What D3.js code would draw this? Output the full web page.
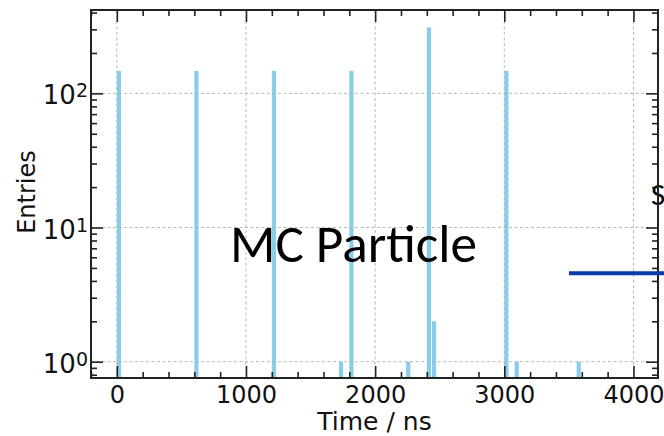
<!DOCTYPE html>
<html>
<head>
<meta charset="utf-8">
<script src="https://cdn.jsdelivr.net/npm/d3@7"></script>
<style>
  body { margin: 0; background: #fff; }
  svg { display: block; }
  .tick text { font-family: "DejaVu Sans", sans-serif; fill: #111; }
</style>
</head>
<body>
<div id="chart"></div>
<script>
// histogram bins: left edge (ns), 40 ns wide
var binWidth = 40;
var binStarts = [0, 600, 1200, 1720, 1800, 2240, 2400, 2440, 3000, 3080, 3560];
var binCounts = [147, 147, 147, 1, 147, 1, 310, 2, 147, 1, 1];

var xMajor = [0, 1000, 2000, 3000, 4000];
var yMajor = [1, 10, 100];
var yLabels = ["0", "1", "2"];

var width = 664, height = 436;
// plot box (note: "top" is taken by window.top)
var pl = 91, pr = 658, pt = 10, pb = 378;

var svg = d3.select("#chart").append("svg")
  .attr("width", width)
  .attr("height", height);

var x = d3.scaleLinear().domain([-200, 4190]).range([pl, pr]);
var y = d3.scaleLog().domain([0.756, 418]).range([pb, pt]);

var xMinor = d3.range(-200, 4190, 200).filter(function(v) { return v % 1000 !== 0; });
var yMinor = [];
[0.1, 1, 10, 100].forEach(function(d) {
  for (var k = 2; k <= 9; k++) {
    var v = d * k;
    if (v >= 0.756 && v <= 418) yMinor.push(v);
  }
});

var slideFont = "Carlito, Calibri, 'Open Sans', sans-serif";

svg.append("text")
  .attr("x", 651).attr("y", 205)
  .attr("font-family", slideFont)
  .attr("font-size", 31)
  .attr("fill", "#000")
  .text("S");

// bars
svg.append("g").selectAll("rect")
  .data(binStarts)
  .enter().append("rect")
  .attr("x", function(d) { return x(d); })
  .attr("width", function(d) { return x(d + binWidth) - x(d) - 1; })
  .attr("y", function(d, i) { return y(binCounts[i]); })
  .attr("height", function(d, i) { return pb - y(binCounts[i]); })
  .attr("fill", "#87ceeb");

// grid on top of bars
var grid = svg.append("g")
  .attr("stroke", "#b0b0b0")
  .attr("stroke-width", 0.9)
  .attr("stroke-dasharray", "3,2.5");
grid.selectAll("line.gx").data(xMajor).enter().append("line")
  .attr("x1", function(d) { return x(d); }).attr("x2", function(d) { return x(d); })
  .attr("y1", pt).attr("y2", pb);
grid.selectAll("line.gy").data(yMajor).enter().append("line")
  .attr("y1", function(d) { return y(d); }).attr("y2", function(d) { return y(d); })
  .attr("x1", pl).attr("x2", pr);

// slide title over the plot
svg.append("text")
  .attr("x", 230).attr("y", 262)
  .attr("font-family", slideFont)
  .attr("font-size", 53)
  .attr("textLength", 247)
  .attr("lengthAdjust", "spacingAndGlyphs")
  .attr("fill", "#000")
  .text("MC Particle");

// axes, ticks pointing inward
function styleAxis(g) {
  g.selectAll(".domain").remove();
  g.selectAll(".tick line").attr("stroke", "#222").attr("stroke-width", 1.6);
}

svg.append("g").attr("transform", "translate(0," + pb + ")")
  .call(d3.axisBottom(x).tickValues(xMajor).tickSize(-12).tickPadding(8).tickFormat(d3.format("d")))
  .call(styleAxis)
  .selectAll("text").attr("font-size", 24);
svg.append("g").attr("transform", "translate(0," + pb + ")")
  .call(d3.axisBottom(x).tickValues(xMinor).tickSize(-6).tickFormat(""))
  .call(styleAxis);
svg.append("g").attr("transform", "translate(0," + pt + ")")
  .call(d3.axisTop(x).tickValues(xMajor).tickSize(-12).tickFormat(""))
  .call(styleAxis);
svg.append("g").attr("transform", "translate(0," + pt + ")")
  .call(d3.axisTop(x).tickValues(xMinor).tickSize(-6).tickFormat(""))
  .call(styleAxis);

svg.append("g").attr("transform", "translate(" + pl + ",0)")
  .call(d3.axisLeft(y).tickValues(yMajor).tickSize(-12).tickFormat(""))
  .call(styleAxis);
svg.append("g").attr("transform", "translate(" + pl + ",0)")
  .call(d3.axisLeft(y).tickValues(yMinor).tickSize(-6).tickFormat(""))
  .call(styleAxis);
svg.append("g").attr("transform", "translate(" + pr + ",0)")
  .call(d3.axisRight(y).tickValues(yMajor).tickSize(-12).tickFormat(""))
  .call(styleAxis);
svg.append("g").attr("transform", "translate(" + pr + ",0)")
  .call(d3.axisRight(y).tickValues(yMinor).tickSize(-6).tickFormat(""))
  .call(styleAxis);

// y tick labels 10^n
var yl = svg.append("g").selectAll("text").data(yMajor).enter().append("text")
  .attr("x", pl - 3)
  .attr("y", function(d) { return y(d) + 11; })
  .attr("text-anchor", "end")
  .attr("font-family", "DejaVu Sans, sans-serif")
  .attr("font-size", 26)
  .attr("fill", "#111");
yl.append("tspan").text("10");
yl.append("tspan")
  .attr("dy", -7)
  .attr("font-size", 19)
  .text(function(d, i) { return yLabels[i]; });

// frame
svg.append("rect")
  .attr("x", pl).attr("y", pt)
  .attr("width", pr - pl).attr("height", pb - pt)
  .attr("fill", "none")
  .attr("stroke", "#222")
  .attr("stroke-width", 2);

// axis titles
svg.append("text")
  .attr("x", (pl + pr) / 2).attr("y", 430)
  .attr("text-anchor", "middle")
  .attr("font-family", "DejaVu Sans, sans-serif")
  .attr("font-size", 25)
  .attr("fill", "#111")
  .text("Time / ns");

svg.append("text")
  .attr("transform", "translate(35," + 192 + ") rotate(-90)")
  .attr("text-anchor", "middle")
  .attr("font-family", "DejaVu Sans, sans-serif")
  .attr("font-size", 24)
  .attr("fill", "#111")
  .text("Entries");

// blue slide line
svg.append("line")
  .attr("x1", 569).attr("x2", 664)
  .attr("y1", 273.3).attr("y2", 273.3)
  .attr("stroke", "#0a39a8")
  .attr("stroke-width", 4);
</script>
</body>
</html>
